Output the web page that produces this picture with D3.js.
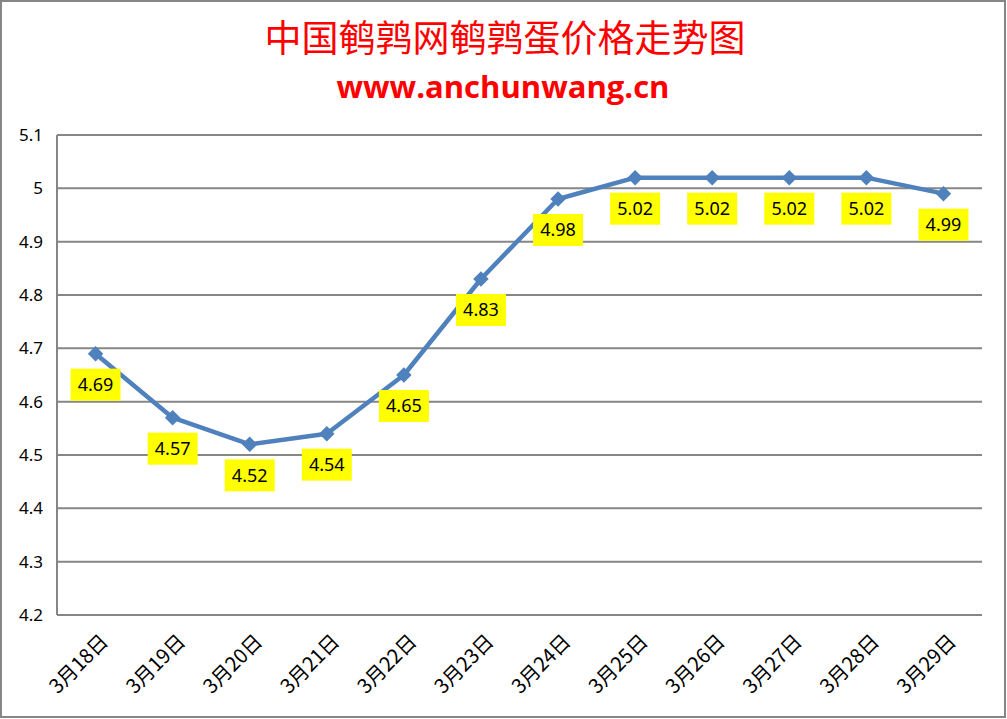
<!DOCTYPE html>
<html><head><meta charset="utf-8">
<script src="https://cdn.jsdelivr.net/npm/d3@7"></script>
<style>body{margin:0;background:#fff}svg{display:block}</style>
</head><body>
<script>
const categories = ["3月18日","3月19日","3月20日","3月21日","3月22日","3月23日","3月24日","3月25日","3月26日","3月27日","3月28日","3月29日"];
const values = [4.69,4.57,4.52,4.54,4.65,4.83,4.98,5.02,5.02,5.02,5.02,4.99];
const yTicks = [4.2,4.3,4.4,4.5,4.6,4.7,4.8,4.9,5,5.1];
const title = "中国鹌鹑网鹌鹑蛋价格走势图";
const subtitle = "www.anchunwang.cn";

const W = 1007, H = 719;
const svg = d3.select("body").append("svg").attr("width", W).attr("height", H);
svg.append("rect").attr("x",1).attr("y",1).attr("width",W-3).attr("height",H-3)
  .attr("fill","#fff").attr("stroke","#868686").attr("stroke-width",2);

const L = 57, R = 982, T = 135, B = 615;
const x = d3.scaleBand().domain(categories).range([L, R]);
const y = d3.scaleLinear().domain([4.2, 5.1]).range([B, T]);

svg.append("text").attr("x", 505).attr("y", 52).attr("text-anchor","middle")
  .attr("font-family","'Noto Sans CJK SC',sans-serif").attr("font-size",37)
  .attr("fill","#ff0000").text(title);
svg.append("text").attr("x", 503).attr("y", 98).attr("text-anchor","middle")
  .attr("font-family","'Open Sans','DejaVu Sans',sans-serif").attr("font-weight","bold").attr("font-size",31)
  .attr("fill","#ff0000").text(subtitle);

// gridlines
svg.append("g").selectAll("line").data(yTicks).join("line")
  .attr("x1", L).attr("x2", R).attr("y1", d=>y(d)).attr("y2", d=>y(d))
  .attr("stroke","#868686").attr("stroke-width",2);
svg.append("line").attr("x1",L).attr("x2",L).attr("y1",T).attr("y2",B)
  .attr("stroke","#868686").attr("stroke-width",2);

// y labels
svg.append("g").selectAll("text").data(yTicks).join("text")
  .attr("x", 43).attr("y", d=>y(d)).attr("dy","0.35em").attr("text-anchor","end")
  .attr("font-family","'Noto Sans','DejaVu Sans',sans-serif").attr("font-size",17).attr("fill","#000")
  .text(d=>d3.format("")(d));

// x labels
svg.append("g").selectAll("text").data(categories).join("text")
  .attr("transform", d=>`translate(${x(d)+x.bandwidth()/2+9},${638}) rotate(-45)`)
  .attr("text-anchor","end").attr("dy","0.35em")
  .attr("font-family","'Noto Sans CJK SC',sans-serif").attr("font-size",20).attr("fill","#000")
  .text(d=>d);

const cx = d => x(d) + x.bandwidth()/2;
const line = d3.line().x((d,i)=>cx(categories[i])).y(d=>y(d));
svg.append("path").datum(values).attr("d", line).attr("fill","none")
  .attr("stroke","#4f81bd").attr("stroke-width",4.5).attr("stroke-linejoin","round");

svg.append("g").selectAll("path").data(values).join("path")
  .attr("d", d3.symbol().type(d3.symbolSquare).size(120))
  .attr("transform",(d,i)=>`translate(${cx(categories[i])},${y(d)}) rotate(45)`)
  .attr("fill","#4f81bd");

// data labels
const lbl = svg.append("g").selectAll("g").data(values).join("g")
  .attr("transform",(d,i)=>`translate(${cx(categories[i])},${y(d)+31})`);
lbl.append("rect").attr("x",-25).attr("y",-16).attr("width",50).attr("height",32).attr("fill","#ffff00");
lbl.append("text").attr("text-anchor","middle").attr("dy","0.36em")
  .attr("font-family","'Noto Sans','DejaVu Sans',sans-serif").attr("font-size",18).attr("fill","#000")
  .text(d=>d3.format(".2f")(d));
</script>
</body></html>
